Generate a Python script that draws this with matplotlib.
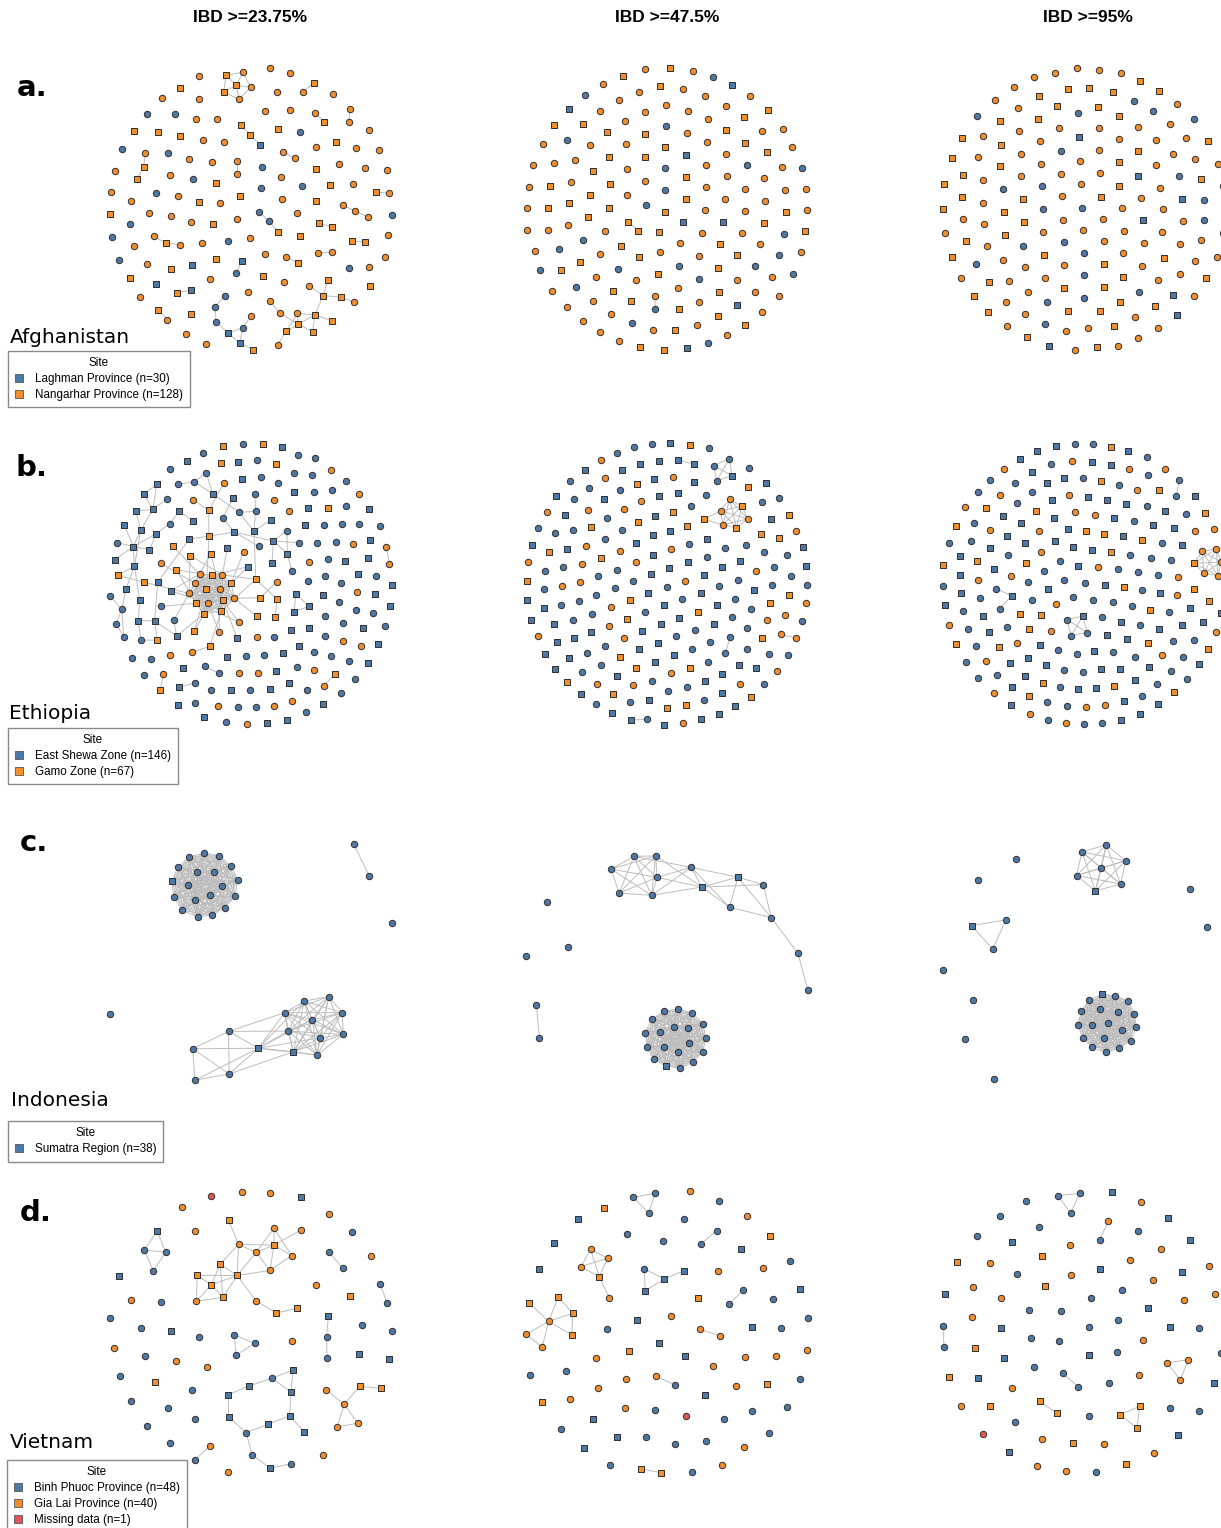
import numpy as np
import matplotlib
matplotlib.use("Agg")
import matplotlib.pyplot as plt
from matplotlib.lines import Line2D
from matplotlib.collections import LineCollection
from collections import Counter

W, H = 1221, 1528
COLORS = {"B": "#4e79a7", "O": "#f28e2b", "R": "#e15759"}

thresholds = ["IBD >=23.75%", "IBD >=47.5%", "IBD >=95%"]
countries = ["Afghanistan", "Ethiopia", "Indonesia", "Vietnam"]
row_tags = ["a.", "b.", "c.", "d."]

# ---- sites (first site = blue "B", second = orange "O", third = red "R")
afg_sites = ["Laghman Province", "Nangarhar Province"]
afg_n = [30, 128]
afg_sq = [7, 49]          # samples drawn as squares

eth_sites = ["East Shewa Zone", "Gamo Zone"]
eth_n = [146, 67]
eth_sq = [70, 30]

ind_sites = ["Sumatra Region"]
ind_n = [38]
ind_sq = [3]

vie_sites = ["Binh Phuoc Province", "Gia Lai Province", "Missing data"]
vie_n = [48, 40, 1]
vie_sq = [16, 13, 0]

# ---- connected components per threshold: (node tokens, edges); "Ka:b" = all pairs in a..b-1
afg_23 = [
    ("Os Bs Bs Bc Oc Bc Bc Bc", "0-1 1-2 1-3 2-3 3-4 2-5 5-6 6-7"),
    ("Bc Bs", "0-1"), ("Os Os", "0-1"), ("Oc Oc", "0-1"),
    ("Oc Os Oc", "0-1 1-2"), ("Oc Oc", "0-1"), ("Os Bc Bc", "0-1 1-2"),
    ("Os Os", "0-1"), ("Oc Oc", "0-1"), ("Bs Os Os", "0-1 1-2"),
    ("Oc Os", "0-1"), ("Os Oc", "0-1"), ("Oc Oc", "0-1"),
    ("Os Os Oc", "0-1 1-2"), ("Oc Os", "0-1"), ("Oc Os", "0-1"),
    ("Oc Oc Oc", "0-1 1-2"), ("Bs Os", "0-1"), ("Oc Os", "0-1"),
    ("Os Oc Os Os Oc Oc", "0-1 0-2 0-3 1-3 2-3 2-4 3-4 3-5 4-5 1-5"),
    ("Oc Os Os Oc Os Os Os Oc Oc Os Os Oc Os Oc",
     "0-1 1-2 1-3 2-3 2-4 3-5 2-5 4-5 5-6 2-7 7-8 5-9 9-10 10-11 9-12 9-13"),
]
afg_47 = [("Os Os", "0-1"), ("Oc Bc", "0-1")]
afg_95 = []

eth_big_nodes = ("Os Os Oc Os Oc Os Oc Os Oc Os Oc Oc Os Oc "
                 "Oc Oc Oc Oc Os Os Os Os Os Oc Os Os "
                 "Bs Bs Bc Bs Bs "
                 "Os Os Oc Oc Os Oc "
                 "Os Os Os "
                 "Bs Bc Bc Bc Bs Bs Bc Bc Bc "
                 "Os Os "
                 "Bs Bs Bc Bc Bc Bc "
                 "Bs Bs Bc Bs Bs Bc Bs Bs "
                 "Bs Bs Bs Bs Bc Bs Bs "
                 "Bs Bs Bs Bs Bs Bc Bc Bs "
                 "Bs Bs Bc Bc Bs Bc "
                 "Os Bc Bs Bs Bc")
eth_big_edges = ("K0:14 "
                 "14-0 14-3 15-2 16-4 16-6 17-5 18-7 18-9 19-8 20-1 20-3 21-10 22-12 23-22 24-11 24-13 25-0 25-2 "
                 "26-0 27-1 27-5 28-3 29-6 30-4 30-8 "
                 "31-9 32-31 33-32 34-32 35-10 36-35 "
                 "37-11 37-12 38-37 39-38 40-37 41-40 42-40 42-41 43-41 44-42 45-40 46-44 47-44 47-46 48-46 "
                 "49-13 50-49 51-50 52-51 53-52 54-53 55-53 56-53 56-55 "
                 "57-51 58-57 59-57 60-57 61-57 61-60 62-61 63-62 64-63 "
                 "65-57 65-51 66-65 67-66 67-65 68-67 69-67 70-67 70-68 71-57 "
                 "72-7 73-72 74-73 75-74 76-75 77-76 78-76 79-78 80-76 81-80 82-80 82-81 83-80 84-80 85-81 "
                 "86-73 87-86 88-87 88-73 89-88 89-51 90-72 90-13")
eth_23 = [
    (eth_big_nodes, eth_big_edges),
    ("Oc Os", "0-1"), ("Oc Os", "0-1"), ("Bc Bc", "0-1"),
    ("Bs Bs Bs", "K0:3"), ("Oc Oc", "0-1"), ("Bc Bs", "0-1"),
]
eth_47 = [
    ("Oc Oc Oc Oc Os Os Os", "K0:6 6-0 6-1"),
    ("Bc Bc Bc Bs", "K0:4"), ("Bs Bs", "0-1"), ("Bc Bs", "0-1"),
    ("Bc Bc", "0-1"), ("Oc Oc", "0-1"),
]
eth_95 = [
    ("Os Oc Oc Oc Oc Oc", "K0:6"), ("Bs Bc Bc Bc", "K0:4"),
    ("Bc Bs Bc", "0-1 1-2"), ("Bc Bc", "0-1"),
]

ind_clique19 = "Bs Bc Bc Bc Bc Bc Bc Bc Bc Bc Bc Bc Bc Bc Bc Bc Bc Bc Bc"
ind_23 = [
    (ind_clique19, "K0:19"),
    ("Bc Bc Bc Bc Bc Bc Bc Bc Bs Bc Bs Bc Bc Bc Bc",
     "K0:10 10-0 10-3 10-4 10-6 10-7 10-8 10-9 11-8 11-10 11-12 11-13 11-14 "
     "12-9 12-6 12-10 12-13 13-10 13-14 14-10"),
    ("Bc Bc", "0-1"),
]
ind_47 = [
    (ind_clique19, "K0:19"),
    ("Bc Bc Bc Bc Bc Bc Bc Bs Bc Bs Bc Bc Bc Bc",
     "K0:6 6-1 6-2 6-4 6-7 7-2 7-4 7-5 8-6 8-7 8-9 8-11 9-6 9-7 9-10 9-11 "
     "10-7 10-11 11-12 12-13"),
    ("Bc Bc", "0-1"),
]
ind_95 = [
    (ind_clique19, "K0:19"),
    ("Bs Bc Bc Bc Bc Bc Bc", "K0:7"),
    ("Bs Bc Bc", "K0:3"),
]

vie_23 = [
    ("Bs Bs Bc Bs Bs Bs Bc Bs Bs Bs Bc Bs Bc",
     "0-1 0-2 1-2 2-3 3-4 4-5 5-6 6-7 7-8 8-1 8-9 6-10 10-11 11-12"),
    ("Os Oc Os Oc Oc Oc Oc Oc Os Os Os Os Os Oc Oc Os Os",
     "0-3 1-2 2-3 2-4 2-5 2-6 2-7 3-4 3-11 3-8 4-5 4-6 6-7 5-7 11-6 11-4 11-8 "
     "11-9 11-10 11-12 8-9 8-10 9-10 10-12 13-10 13-12 13-9 11-14 14-15 15-16"),
    ("Os Os Oc Oc Oc Oc", "0-1 1-2 2-3 2-4 3-4 2-5"),
    ("Bc Bc Bs", "0-1 1-2"), ("Bc Bc", "0-1"), ("Bc Bc", "0-1"),
    ("Bc Oc", "0-1"), ("Bc Bc Bc", "K0:3"),
    ("Bs Bc Bc Bc", "0-1 0-2 1-2 1-3 2-3"),
]
vie_47 = [
    ("Bc Bc", "0-1"),
    ("Os Os Oc Os Os Oc Oc", "0-2 1-2 3-2 4-2 1-3 1-4 2-5 2-6 5-6"),
    ("Bc Bc Bc", "K0:3"), ("Bs Bs Bc Bs", "0-1 1-2 1-3 2-3"),
    ("Oc Oc", "0-1"), ("Oc Oc Oc Os Oc", "0-1 0-2 1-2 0-3 1-3 2-3 3-4"),
    ("Bc Bc", "0-1"), ("Os Os", "0-1"), ("Oc Bc", "0-1"),
]
vie_95 = [
    ("Bc Bc", "0-1"), ("Oc Bc", "0-1"), ("Bc Bc Bc", "K0:3"),
    ("Oc Oc Oc", "K0:3"), ("Os Os", "0-1"), ("Os Os Os", "K0:3"),
    ("Bc Bc", "0-1"),
]

rows = [
    (afg_sites, afg_n, afg_sq, [afg_23, afg_47, afg_95], 0.35),
    (eth_sites, eth_n, eth_sq, [eth_23, eth_47, eth_95], 0.025),
    (ind_sites, ind_n, ind_sq, [ind_23, ind_47, ind_95], 0.25),
    (vie_sites, vie_n, vie_sq, [vie_23, vie_47, vie_95], 0.2),
]


def parse_edges(spec):
    out = []
    for tok in spec.split():
        if tok.startswith("K"):
            a, b = map(int, tok[1:].split(":"))
            out += [(i, j) for i in range(a, b) for j in range(i + 1, b)]
        else:
            a, b = tok.split("-")
            out.append((int(a), int(b)))
    return out


def build_graph(n, sq, comps):
    totals = {}
    for code, cnt, s in zip("BOR", n, sq):
        totals[code + "s"] = s
        totals[code + "c"] = cnt - s
    tokens, edges, groups = [], [], []
    for gi, (nodes, spec) in enumerate(comps):
        toks = nodes.split()
        base = len(tokens)
        tokens += toks
        edges += [(a + base, b + base) for a, b in parse_edges(spec)]
        groups += [gi] * len(toks)
    used = Counter(tokens)
    g = len(comps)
    for key, cnt in totals.items():
        for _ in range(max(cnt - used[key], 0)):
            tokens.append(key)
            groups.append(g)
            g += 1
    return tokens, edges, np.array(groups)


def spring_layout(n, edges, groups, seed, w, grav=1.0, iters=700):
    # Fruchterman-Reingold style forces plus a pull to the centre
    rng = np.random.default_rng(seed)
    A = np.zeros((n, n))
    for a, b in edges:
        A[a, b] = A[b, a] = 1.0
    ng = groups.max() + 1
    slot = rng.permutation(ng)
    r = np.sqrt((slot + 0.5) / ng) * np.sqrt(2 * ng / grav)
    th = slot * 2.399963
    centers = np.c_[r * np.cos(th), r * np.sin(th)]
    pos = centers[groups] + rng.normal(0, 0.3, (n, 2))
    t = 1.0
    for _ in range(iters):
        d = pos[:, None, :] - pos[None, :, :]
        dist2 = (d ** 2).sum(-1) + 1e-4
        dist = np.sqrt(dist2)
        f = 1.0 / dist2 - w * A * dist
        np.fill_diagonal(f, 0)
        disp = (f[:, :, None] * d).sum(1) - grav * pos
        ln = np.linalg.norm(disp, axis=1, keepdims=True) + 1e-9
        pos += disp / ln * np.minimum(ln, t)
        t = max(t * 0.992, 0.004)
    lo, hi = pos.min(0), pos.max(0)
    pos = (pos - (lo + hi) / 2) * (282.0 / (hi - lo).max())
    return pos


fig = plt.figure(figsize=(W / 100, H / 100), dpi=100)

col_x = [251, 667, 1084]
row_y = [209, 584, 962, 1332]
box = 300

for ri, (sites, n, sq, panels, w) in enumerate(rows):
    for ci, comps in enumerate(panels):
        tokens, edges, groups = build_graph(n, sq, comps)
        pos = spring_layout(len(tokens), edges, groups, seed=11 + 7 * ri + ci, w=w)
        ax = fig.add_axes([(col_x[ci] - box / 2) / W, 1 - (row_y[ri] + box / 2) / H,
                           box / W, box / H])
        ax.set_xlim(-box / 2, box / 2)
        ax.set_ylim(-box / 2, box / 2)
        ax.axis("off")
        segs = [[pos[a], pos[b]] for a, b in edges]
        ax.add_collection(LineCollection(segs, colors="#bdbdbd", linewidths=0.7, zorder=1))
        tok = np.array(tokens)
        for key in ["Bc", "Bs", "Oc", "Os", "Rc"]:
            m = tok == key
            if not m.any():
                continue
            ax.scatter(pos[m, 0], pos[m, 1], s=21 if key[1] == "c" else 23,
                       marker="o" if key[1] == "c" else "s", c=COLORS[key[0]],
                       edgecolors="#2e2e2e", linewidths=0.7, zorder=2)

# column titles
for ci, t in enumerate(thresholds):
    fig.text([250, 667, 1088][ci] / W, 1 - 17 / H, t, ha="center", va="center",
             fontsize=12.5, fontweight="bold",
             family=["Liberation Sans Narrow", "Liberation Sans"])

tag_pos = [(17, 96), (16, 476), (20, 851), (20, 1221)]
name_pos = [(10, 343), (9, 719), (11, 1106), (10, 1448)]
leg_pos = [(8, 351), (8, 728), (8, 1121), (7, 1460)]

for ri, (sites, n, sq, panels, w) in enumerate(rows):
    x, y = tag_pos[ri]
    fig.text(x / W, 1 - y / H, row_tags[ri], fontsize=21, fontweight="bold",
             family="DejaVu Sans", va="baseline", ha="left")
    x, y = name_pos[ri]
    fig.text(x / W, 1 - y / H, countries[ri], fontsize=14.5, family="DejaVu Sans",
             va="baseline", ha="left")
    handles = [Line2D([], [], ls="none", marker="s", ms=6, mfc=COLORS[c],
                      mec="#555555", mew=0.6) for c in "BOR"[:len(sites)]]
    labels = [f"{s} (n={k})" for s, k in zip(sites, n)]
    x, y = leg_pos[ri]
    leg = fig.legend(handles, labels, title="Site", loc="upper left",
                     bbox_to_anchor=(x / W, 1 - y / H), borderaxespad=0,
                     prop={"family": "Liberation Sans", "size": 8.4},
                     title_fontproperties={"family": "Liberation Sans", "size": 8.4},
                     frameon=True, fancybox=False, edgecolor="#8a8a8a",
                     framealpha=1, handlelength=0.8, handletextpad=1.0,
                     labelspacing=0.32, borderpad=0.55)
    leg.get_frame().set_linewidth(1.0)

fig.savefig("out.png", dpi=100)
